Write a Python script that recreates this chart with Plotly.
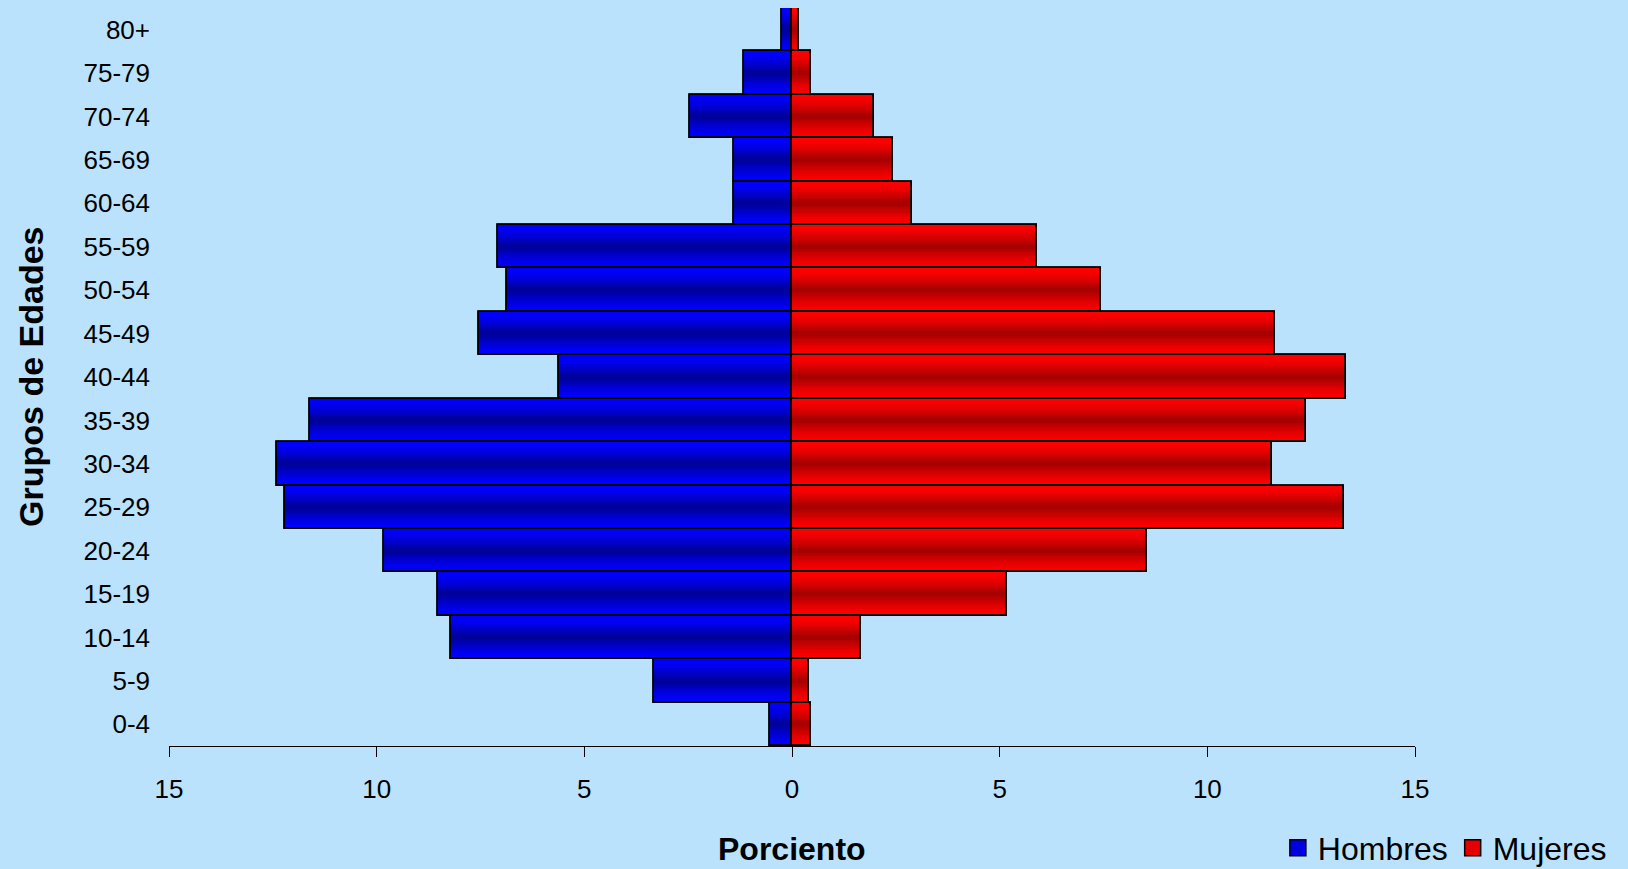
import plotly.graph_objects as go

# ---- data ----
age_groups = ["0-4", "5-9", "10-14", "15-19", "20-24", "25-29", "30-34", "35-39",
              "40-44", "45-49", "50-54", "55-59", "60-64", "65-69", "70-74", "75-79", "80+"]
hombres = [0.52, 3.32, 8.2, 8.53, 9.83, 12.2, 12.4, 11.6,
           5.62, 7.53, 6.87, 7.08, 1.4, 1.4, 2.46, 1.15, 0.25]
mujeres = [0.46, 0.40, 1.66, 5.18, 8.55, 13.28, 11.55, 12.38,
           13.34, 11.62, 7.45, 5.89, 2.88, 2.42, 1.98, 0.46, 0.16]
tick_vals = [-15, -10, -5, 0, 5, 10, 15]
tick_text = ["15", "10", "5", "0", "5", "10", "15"]
series_names = ["Hombres", "Mujeres"]

FONT = "Liberation Sans, Arial, sans-serif"
BG = "#BBE2FC"

fig = go.Figure()

hombres_neg = [-v for v in hombres]


def mix(c1, c2, t):
    return "rgb(%d,%d,%d)" % tuple(round(a + (b - a) * t) for a, b in zip(c1, c2))


series = [
    (series_names[0], hombres_neg, (0, 0, 255), (0, 0, 155)),
    (series_names[1], mujeres, (255, 0, 0), (168, 0, 0)),
]

# base bars
for name, vals, bright, dark in series:
    fig.add_trace(go.Bar(
        y=age_groups, x=vals, orientation="h", name=name, width=1.0,
        marker=dict(color=mix(bright, dark, 0), line=dict(color="black", width=1.5)),
        legendgroup=name, showlegend=False, hoverinfo="x+y",
    ))

# gradient layers (horizontal shading, darker toward centre)
n_layers = 12
for name, vals, bright, dark in series:
    for k in range(1, n_layers):
        t = k / (n_layers - 1)
        w = 1.0 - 0.9 * t
        fig.add_trace(go.Bar(
            y=age_groups, x=vals, orientation="h", width=w,
            marker=dict(color=mix(bright, dark, t ** 1.4), line=dict(width=0)),
            showlegend=False, legendgroup=name, hoverinfo="skip",
        ))

# outlines on top
for name, vals, bright, dark in series:
    fig.add_trace(go.Bar(
        y=age_groups, x=vals, orientation="h", width=1.0,
        marker=dict(color="rgba(0,0,0,0)", line=dict(color="black", width=1.8)),
        showlegend=False, legendgroup=name, hoverinfo="skip",
    ))

# legend entries (larger square symbols)
for name, vals, bright, dark in series:
    fig.add_trace(go.Scatter(
        x=[None], y=[None], mode="markers", name=name, legendgroup=name,
        marker=dict(symbol="square", size=20, color=mix(bright, dark, 0.3),
                    line=dict(color="black", width=1.5)),
    ))

fig.update_layout(
    width=1628, height=869,
    margin=dict(l=169, r=213, t=8, b=123, autoexpand=False),
    paper_bgcolor=BG, plot_bgcolor=BG,
    barmode="overlay", bargap=0,
    font=dict(family=FONT, size=26, color="black"),
    showlegend=True,
    legend=dict(orientation="h", x=1.158, xanchor="right", y=-0.138, yanchor="middle",
                font=dict(size=32, family=FONT, color="black"),
                bgcolor="rgba(0,0,0,0)", traceorder="normal", itemsizing="trace",
                itemwidth=30),
    xaxis=dict(range=[-15, 15], tickvals=tick_vals, ticktext=tick_text,
               showgrid=False, zeroline=False, showline=True, linecolor="black", linewidth=1,
               ticks="outside", ticklen=10, tickcolor="black", tickwidth=1,
               ticklabelstandoff=10, tickfont=dict(size=26)),
    yaxis=dict(type="category", showgrid=False, zeroline=False, showline=False,
               ticks="", ticklabelstandoff=18, tickfont=dict(size=26),
               range=[-0.5, len(age_groups) - 0.5]),
    annotations=[
        dict(text="<b>Grupos de Edades</b>", textangle=-90, xref="paper", yref="paper",
             x=-0.1108, y=0.5, xanchor="center", yanchor="middle", showarrow=False,
             font=dict(size=34, family=FONT, color="black")),
        dict(text="<b>Porciento</b>", xref="paper", yref="paper",
             x=0.5, y=-0.139, xanchor="center", yanchor="middle", showarrow=False,
             font=dict(size=32, family=FONT, color="black")),
    ],
)

fig.write_html("out.html", config={"displayModeBar": False})

# remove default page margin so the figure fills the window exactly
with open("out.html", "r", encoding="utf-8") as f:
    html = f.read()
html = html.replace("<head>", "<head><style>html,body{margin:0;padding:0;overflow:hidden;}</style>", 1)
with open("out.html", "w", encoding="utf-8") as f:
    f.write(html)
